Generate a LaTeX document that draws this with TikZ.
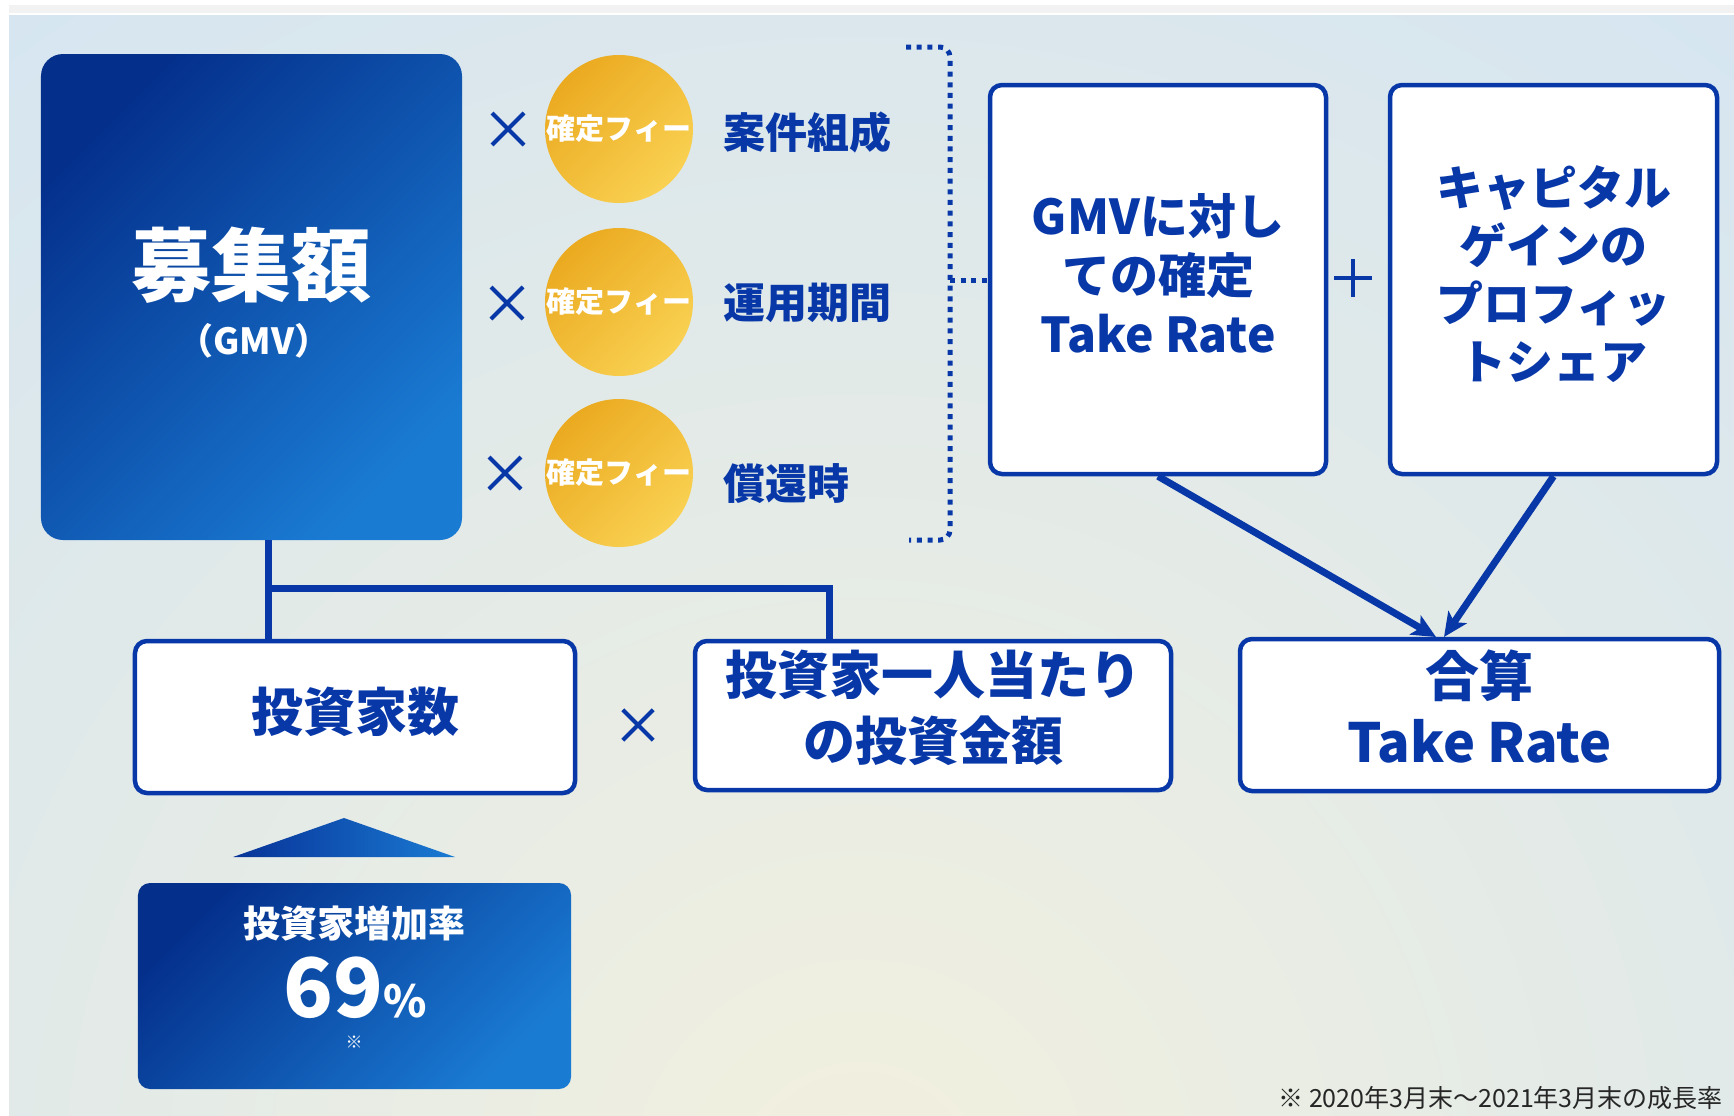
\documentclass[tikz,border=0pt]{standalone}
\usepackage{fontspec}
\setmainfont{Noto Sans CJK JP}
\usetikzlibrary{arrows.meta,calc}
\definecolor{navy}{HTML}{0838A8}
\definecolor{dkblue}{HTML}{04308C}
\definecolor{ltblue}{HTML}{1A7BD3}
\definecolor{orng}{HTML}{EBAA20}
\definecolor{yelo}{HTML}{F9D152}
\definecolor{bgblue}{HTML}{CDE2F6}
\definecolor{cream}{HTML}{F2F0DE}
\definecolor{stripgray}{HTML}{F2F2F2}
\newcommand\fsz[2]{\fontsize{#1bp}{#2bp}\selectfont}
\tikzset{
  wbox/.style={draw=navy, line width=4.5bp, fill=white, rounded corners=12bp, inner sep=0pt},
  gradbox/.style={top color=dkblue, bottom color=ltblue, shading angle=45, inner sep=0pt},
  feecirc/.style={circle, top color=orng, bottom color=yelo, shading angle=45, minimum size=148bp, inner sep=0pt},
  feetext/.style={text=white, font=\fsz{29}{34}\bfseries, inner sep=0pt},
  blabel/.style={text=navy, font=\fsz{42}{50}\bfseries, inner sep=0pt},
  btext/.style={text=navy, align=center, inner sep=0pt},
  conn/.style={draw=navy, line width=7bp},
  arr/.style={draw=navy, line width=7bp, -{Stealth[length=24bp,width=22bp,inset=6bp]}},
  dotbr/.style={draw=navy, line width=5bp, dash pattern=on 5bp off 5.7bp, rounded corners=10bp},
  xmark/.pic={\draw[navy, line width=4bp] (-16,-16) -- (16,16) (-16,16) -- (16,-16);},
  plusmark/.pic={\draw[navy, line width=4bp] (-19,0) -- (19,0) (0,-19) -- (0,19);}
}
\begin{document}
\begin{tikzpicture}[x=1bp,y=-1bp]
\useasboundingbox (0,0) rectangle (1734,1115);
% background
\fill[stripgray] (9,5) rectangle (1734,13);
\begin{scope}
\clip (9,15) rectangle (1734,1115);
\shade[inner color=cream, outer color=bgblue] (860,1190) circle (1900);
\end{scope}

% big GMV box
\node[gradbox, rounded corners=22bp, minimum width=421bp, minimum height=486bp] (big) at (251.5,297) {};
\node[text=white, font=\fsz{80}{90}\bfseries, inner sep=0pt] (bigt) at (251,265) {募集額};
\node[text=white, font=\fsz{36}{42}\bfseries, inner sep=0pt] (bigs) at (254,341) {（GMV）};

% fee circles
\node[feecirc] (c1) at (619,129) {};
\node[feecirc] (c2) at (619,302) {};
\node[feecirc] (c3) at (619,473) {};
\node[feetext] at (c1) {確定フィー};
\node[feetext] at (c2) {確定フィー};
\node[feetext] at (c3) {確定フィー};
\pic at (508,129) {xmark};
\pic at (507,303) {xmark};
\pic at (505,473) {xmark};
\node[blabel, anchor=west] (l1) at (723,132) {案件組成};
\node[blabel, anchor=west] (l2) at (723,303) {運用期間};
\node[blabel, anchor=west] (l3) at (723,484) {償還時};

% dotted bracket
\draw[dotbr] (906,47) -- (950,47) -- (950,540) -- (909,540);

% top right boxes
\node[wbox, minimum width=336bp, minimum height=389bp] (gmv) at (1158,279.5) {};
\node[btext, font=\fsz{48}{59}\bfseries] at (1158,273) {GMVに対し\\ての確定\\Take Rate};
\node[wbox, minimum width=327bp, minimum height=389bp] (cap) at (1553.5,279.5) {};
\node[btext, font=\fsz{47}{58}\bfseries] at (1553.5,274) {キャピタル\\ゲインの\\プロフィッ\\トシェア};
\pic at (1353,278) {plusmark};
\coordinate (brmid) at (950,280);
\draw[dotbr] (brmid) -- (gmv.west |- brmid);

% total box
\node[wbox, minimum width=479bp, minimum height=152bp] (tot) at (1479.5,715) {};
\node[btext, font=\fsz{54}{66}\bfseries] at (1479.5,707) {合算\\Take Rate};
\coordinate (t1) at (1436,637);
\coordinate (t2) at (1444,637);
\draw[arr] (gmv.south) -- (t1);
\draw[arr] (cap.south) -- (t2);

% bottom left boxes
\node[wbox, minimum width=440bp, minimum height=152bp] (inv) at (355,717) {};
\node[btext, font=\fsz{52}{64}\bfseries] at (355,712) {投資家数};
\node[wbox, minimum width=476bp, minimum height=149bp] (amt) at (933,715.5) {};
\node[btext, font=\fsz{52}{66}\bfseries] at (933,708) {投資家一人当たり\\の投資金額};
\pic[scale=0.95] at (638,725) {xmark};

% connectors
\coordinate (j1) at (268,588);
\coordinate (j2) at (829,588);
\draw[conn] (big.south -| j1) -- (inv.north -| j1);
\draw[conn] (j1) -- (j2) -- (amt.north -| j2);

% growth
\shade[left color=navy!90!black, right color=ltblue] (233,857) -- (455,857) -- (344,818) -- cycle;
\node[gradbox, rounded corners=12bp, minimum width=433bp, minimum height=206bp] (grow) at (354.5,986) {};
\node[text=white, font=\fsz{37}{44}\bfseries, inner sep=0pt] at (354,923) {投資家増加率};
\node[text=white, inner sep=0pt, anchor=base] at (355,1017) {\fsz{82}{90}\bfseries 69\fsz{44}{50}\bfseries\%};
\node[text=white, font=\fsz{17}{20}, inner sep=0pt] at (354,1042) {※};

% footnote
\node[anchor=base east, font=\fsz{25}{30}, text=black!85, inner sep=0pt] (note) at (1723,1107) {※ 2020年3月末～2021年3月末の成長率};
\end{tikzpicture}
\end{document}
